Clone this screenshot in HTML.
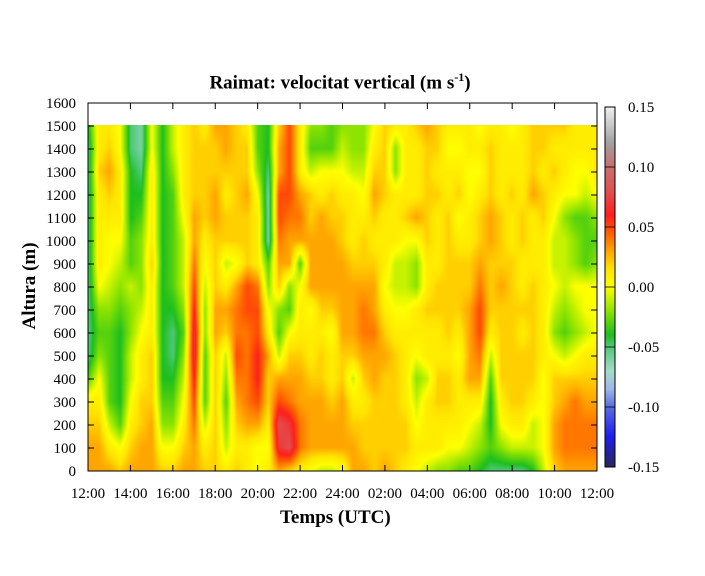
<!DOCTYPE html>
<html><head><meta charset="utf-8"><style>
body{margin:0;background:#fff;width:705px;height:576px;overflow:hidden;position:relative;font-family:"Liberation Serif",serif}
.t{position:absolute;font-size:15px;color:#000;white-space:nowrap}
</style></head><body>
<div class="t" style="left:0;width:680px;text-align:center;top:70px;font-weight:bold;font-size:19px">Raimat: velocitat vertical (m s<sup style="font-size:12px">-1</sup>)</div>
<div class="t" style="left:280px;top:507px;font-weight:bold;font-size:19px">Temps (UTC)</div>
<div class="t" style="left:-20px;top:275px;font-weight:bold;font-size:19px;transform:rotate(-90deg);width:100px;text-align:center">Altura (m)</div>
<canvas id="hm" width="509" height="346" style="position:absolute;left:88px;top:125px"></canvas>
<canvas id="cb" width="10" height="360" style="position:absolute;left:605px;top:107px"></canvas>
<svg id="ax" width="705" height="576" style="position:absolute;left:0;top:0"></svg>
<script>
const times=["12:00","14:00","16:00","18:00","20:00","22:00","24:00","02:00","04:00","06:00","08:00","10:00","12:00"];
const yTicks=[0,100,200,300,400,500,600,700,800,900,1000,1100,1200,1300,1400,1500,1600];
const cbTicks=[-0.15,-0.10,-0.05,0.00,0.05,0.10,0.15];
const heights=[0,100,200,300,400,500,600,700,800,900,1000,1100,1200,1300,1400,1500];
// vertical velocity in cm/s; one column every 30 min from 12:00; values bottom->top
const w=[
[3,3,2,1,-3,-5,-5,-5,-5,-5,-5,-5,-5,-5,-5,-4],
[3,3,2,1,0,-2,-3,-2,0,1,1,1,1,2,1,1],
[3,1,-1,-3,-3,-3,-3,-2,-1,0,0,1,2,3,2,1],
[2,0,-3,-4,-4,-4,-4,-3,-2,-1,0,1,1,1,0,0],
[3,2,1,0,-1,-1,-2,-2,-1,-3,-3,-4,-4,-4,-5,-5],
[3,3,2,2,1,1,0,-1,-2,-2,-2,-3,-4,-5,-6,-6],
[3,3,3,2,2,2,1,1,1,2,1,1,1,1,0,0],
[2,0,-2,-3,-4,-4,-4,-4,-4,-4,-4,-4,-4,-4,-4,-4],
[2,0,-2,-3,-4,-5,-5,-4,-3,-3,-3,-3,-3,-2,-1,-1],
[3,2,1,0,-1,-2,-3,-2,-1,-1,-1,0,1,1,1,1],
[3,3,4,5,6,7,7,6,5,4,3,3,2,2,2,2],
[2,1,-1,-3,-3,-3,-2,-2,-1,0,1,2,2,2,2,1],
[2,2,2,2,2,2,3,3,2,2,2,3,3,2,2,3],
[1,-1,-2,-3,-2,-1,2,3,1,-1,2,2,1,2,3,3],
[2,1,2,3,4,5,4,4,3,0,2,2,2,2,2,2],
[1,1,3,4,4,4,4,5,5,2,2,2,3,2,2,1],
[0,0,3,5,6,6,5,5,4,1,1,1,0,-2,-3,-3],
[1,0,1,2,2,3,1,0,-2,-3,-6,-6,-6,-5,-4,-4],
[3,7,8,5,3,-1,-3,-2,2,3,4,5,5,3,3,2],
[2,8,7,4,3,2,0,-3,-2,3,3,4,5,5,5,5],
[1,4,4,3,3,2,1,1,0,-3,3,4,3,1,1,1],
[0,3,3,3,2,1,1,0,3,3,3,2,2,-1,-3,-2],
[-1,3,3,3,2,2,1,2,3,3,3,3,1,0,-3,-2],
[-1,3,3,2,1,1,0,2,3,3,3,2,2,0,-3,-3],
[0,3,3,3,2,2,3,3,3,3,2,2,1,0,-1,-2],
[3,3,2,1,-1,2,3,3,3,2,1,1,1,-1,-2,-2],
[3,2,2,1,2,3,4,4,3,2,2,1,0,-1,-2,-2],
[2,2,2,2,3,3,4,3,3,2,1,2,3,2,1,0],
[3,2,2,2,2,3,2,1,0,1,1,1,2,2,2,2],
[2,2,2,2,2,2,1,0,-1,-1,1,1,1,-2,-2,1],
[1,2,2,1,1,1,1,0,-1,-1,0,2,1,1,1,1],
[0,1,0,-1,-2,0,1,1,-2,-2,0,3,1,1,1,2],
[-1,1,1,1,-1,1,1,2,1,1,2,2,2,2,2,3],
[-2,1,1,2,2,1,1,2,2,1,1,1,2,1,2,2],
[-2,0,1,2,2,1,2,2,2,2,2,2,1,1,0,1],
[-3,0,1,1,1,0,1,2,2,2,1,0,2,1,0,1],
[-3,-1,0,1,3,3,3,3,2,2,1,1,0,0,1,1],
[-4,-2,-1,1,3,4,5,5,4,3,2,2,1,0,1,0],
[-5,-3,-4,-4,-3,-1,1,2,2,2,3,3,2,2,2,1],
[-5,-2,0,1,2,2,2,2,3,2,2,2,1,1,1,1],
[-5,-1,1,2,2,2,2,2,2,2,1,1,2,1,1,0],
[-5,-1,1,2,2,2,1,2,1,1,2,2,1,1,1,1],
[-4,-1,-1,1,2,2,2,2,2,1,1,1,3,2,2,2],
[-1,0,0,0,0,1,1,1,1,1,1,2,2,1,2,2],
[2,3,3,2,2,0,-2,-1,0,-1,-1,0,1,2,1,2],
[3,4,4,3,2,-1,-3,-2,-1,-1,-1,-2,0,1,1,2],
[3,4,4,4,2,0,-2,-1,0,-2,-2,-3,0,0,1,1],
[3,4,4,3,2,1,-1,0,0,-3,-3,-3,-1,0,1,1],
[3,4,4,3,2,1,0,0,0,-2,-3,-2,0,1,1,1]
];
const stops=[[-0.15,[40,40,90]],[-0.125,[30,30,240]],[-0.10,[90,110,225]],[-0.085,[160,185,232]],[-0.07,[165,220,200]],[-0.05,[80,200,120]],[-0.04,[30,190,30]],[-0.02,[140,228,0]],[0,[255,255,0]],[0.015,[255,228,0]],[0.03,[255,165,0]],[0.045,[255,95,0]],[0.06,[255,30,30]],[0.08,[225,80,80]],[0.10,[200,110,110]],[0.12,[160,160,160]],[0.15,[240,240,240]]];
function cmap(v){if(v<=stops[0][0])return stops[0][1];for(let i=1;i<stops.length;i++){if(v<=stops[i][0]){const a=stops[i-1],b=stops[i],f=(v-a[0])/(b[0]-a[0]);return a[1].map((c,k)=>Math.round(c+(b[1][k]-c)*f));}}return stops[stops.length-1][1];}
const X0=88,X1=597,Y0=471,Y1=103,HMAX=1600;
const xs=h=>X0+(h/24)*(X1-X0);
const ys=m=>Y0-(m/HMAX)*(Y0-Y1);
(function(){const c=document.getElementById('hm'),ctx=c.getContext('2d');const W=c.width,H=c.height;const img=ctx.createImageData(W,H);
const nc=w.length-1,nr=heights.length-1,top=heights[nr];
for(let py=0;py<H;py++){const m=top*(1-py/(H-1));const rf=Math.min(nr-0.0001,Math.max(0,m/100));const r=Math.floor(rf),fr=rf-r;
for(let px=0;px<W;px++){const hh=px/(W-1)*24;const cf=Math.min(nc-0.0001,hh*2);const ci=Math.floor(cf),fc=cf-ci;
const v=((w[ci][r]*(1-fc)+w[ci+1][r]*fc)*(1-fr)+(w[ci][r+1]*(1-fc)+w[ci+1][r+1]*fc)*fr)/100;
const col=cmap(v);const o=(py*W+px)*4;img.data[o]=col[0];img.data[o+1]=col[1];img.data[o+2]=col[2];img.data[o+3]=255;}}
ctx.putImageData(img,0,0);})();
(function(){const c=document.getElementById('cb'),ctx=c.getContext('2d');for(let y=0;y<c.height;y++){const v=0.15-0.30*y/(c.height-1);const col=cmap(v);ctx.fillStyle=`rgb(${col})`;ctx.fillRect(0,y,10,1);}})();
const svg=document.getElementById('ax');const NS='http://www.w3.org/2000/svg';
function el(t,a,txt){const e=document.createElementNS(NS,t);for(const k in a)e.setAttribute(k,a[k]);if(txt!==undefined)e.textContent=txt;svg.appendChild(e);return e;}
let fr=el('rect',{x:X0,y:Y1,width:X1-X0,height:Y0-Y1,fill:'none',stroke:'#000','stroke-width':1});


yTicks.forEach(v=>{const y=ys(v);
const l=el('line',{x1:X0,x2:X0+6,y1:y,y2:y,stroke:'#000'});


el('line',{x1:X1,x2:X1-6,y1:y,y2:y,stroke:'#000'});
const t=el('text',{x:X0-12,y:y+5,'text-anchor':'end','font-size':15,'font-family':'Liberation Serif'},String(v));

});
times.forEach((lab,i)=>{const x=xs(i*2);
const l=el('line',{x1:x,x2:x,y1:Y0,y2:Y0-6,stroke:'#000'});


el('line',{x1:x,x2:x,y1:Y1,y2:Y1+6,stroke:'#000'});
const t=el('text',{x:x,y:498,'text-anchor':'middle','font-size':15,'font-family':'Liberation Serif'},lab);

});
const cr=el('rect',{x:605,y:107,width:10,height:360,fill:'none',stroke:'#000'});


cbTicks.forEach(v=>{const y=467-(v+0.15)/0.30*360;
el('line',{x1:605,x2:615,y1:y,y2:y,stroke:'#000','stroke-width':0.8});
const t=el('text',{x:628,y:y+5,'font-size':15,'font-family':'Liberation Serif'},v.toFixed(2));

});
</script>
</body></html>
